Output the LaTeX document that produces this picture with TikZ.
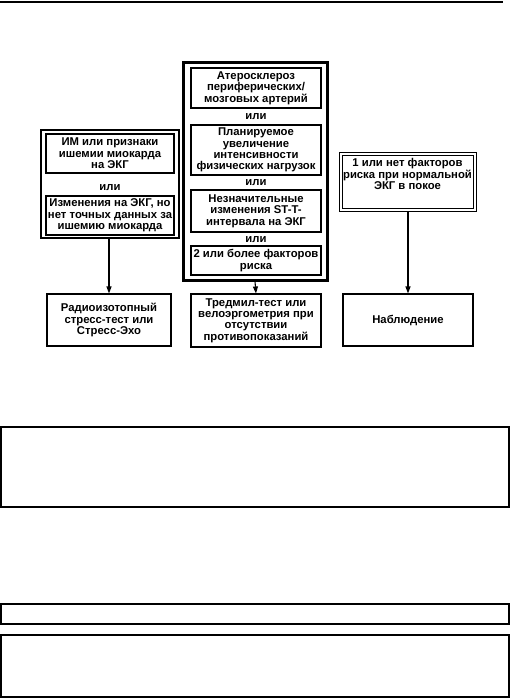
\documentclass[tikz,border=0pt]{standalone}
\usepackage{fontspec}
\setmainfont{Liberation Sans}
\usetikzlibrary{arrows.meta}
\begin{document}
\begin{tikzpicture}[x=1pt,y=-1pt,
  every node/.style={font=\fontsize{11.3}{11.4}\selectfont\bfseries, align=center, inner sep=0pt},
  box/.style={draw, line width=1.1pt, rectangle},
  grp/.style={draw, line width=1.1pt, rectangle},
  thickgrp/.style={draw, line width=3pt, rectangle},
  thinbox/.style={draw, line width=0.9pt, rectangle},
  arr/.style={line width=1.1pt, -{Triangle[length=7pt,width=5pt]}},
  frame/.style={draw, line width=1.1pt, rectangle}]
\useasboundingbox (0,0) rectangle (510,698);
% top rule
\coordinate (tl) at (0,2);
\coordinate (tr) at (503,2);
\draw[line width=1.4pt] (tl) -- (tr);
% left group
\node[grp, minimum width=138pt, minimum height=108pt] (LG) at (110,184) {};
\node[box, minimum width=128pt, minimum height=39pt] (L1) at (110,153.5) {ИМ или признаки\\ишемии миокарда\\на ЭКГ};
\node (Lor) at (110,188) {или};
\node[box, minimum width=128pt, minimum height=39pt] (L2) at (110,215.5) {Изменения на ЭКГ, но\\нет точных данных за\\ишемию миокарда};
\node[box, minimum width=124pt, minimum height=52pt] (LB) at (109,320) {Радиоизотопный\\стресс-тест или\\Стресс-Эхо};
\draw[arr] (LG.south -| LB.north) -- (LB.north);
% center group
\node[thickgrp, minimum width=144pt, minimum height=217pt] (CG) at (255,171.5) {};
\node[box, minimum width=130pt, minimum height=40pt] (C1) at (256,88) {Атеросклероз\\периферических/\\мозговых артерий};
\node (Cor1) at (256,116.5) {или};
\node[box, minimum width=130pt, minimum height=50pt] (C2) at (256,150) {Планируемое\\увеличение\\интенсивности\\физических нагрузок};
\node (Cor2) at (256,182.5) {или};
\node[box, minimum width=130pt, minimum height=42pt] (C3) at (256,211) {Незначительные\\изменения ST-T-\\интервала на ЭКГ};
\node (Cor3) at (256,239.5) {или};
\node[box, minimum width=130pt, minimum height=29pt] (C4) at (256,260.5) {2 или более факторов\\риска};
\node[box, minimum width=130pt, minimum height=53pt] (CB) at (256,320.5) {Тредмил-тест или\\велоэргометрия при\\отсутствии\\противопоказаний};
\draw[arr] (CG.south) -- (CB.north);
% right (double frame)
\node[thinbox, minimum width=137pt, minimum height=59pt] (R) at (407.5,181.5) {};
\node[thinbox, minimum width=131pt, minimum height=53pt] (Ri) at (407.5,181.5) {};
\node (Rt) at (407.5,174) {1 или нет факторов\\риска при нормальной\\ЭКГ в покое};
\node[box, minimum width=130pt, minimum height=52pt] (RB) at (408,320) {Наблюдение};
\draw[arr] (R.south -| RB.north) -- (RB.north);
% lower frames
\node[frame, minimum width=508pt, minimum height=80pt] (F1) at (255,467) {};
\node[frame, minimum width=508pt, minimum height=20pt] (F2) at (255,614) {};
\node[frame, minimum width=508pt, minimum height=62pt] (F3) at (255,666) {};
\end{tikzpicture}
\end{document}
